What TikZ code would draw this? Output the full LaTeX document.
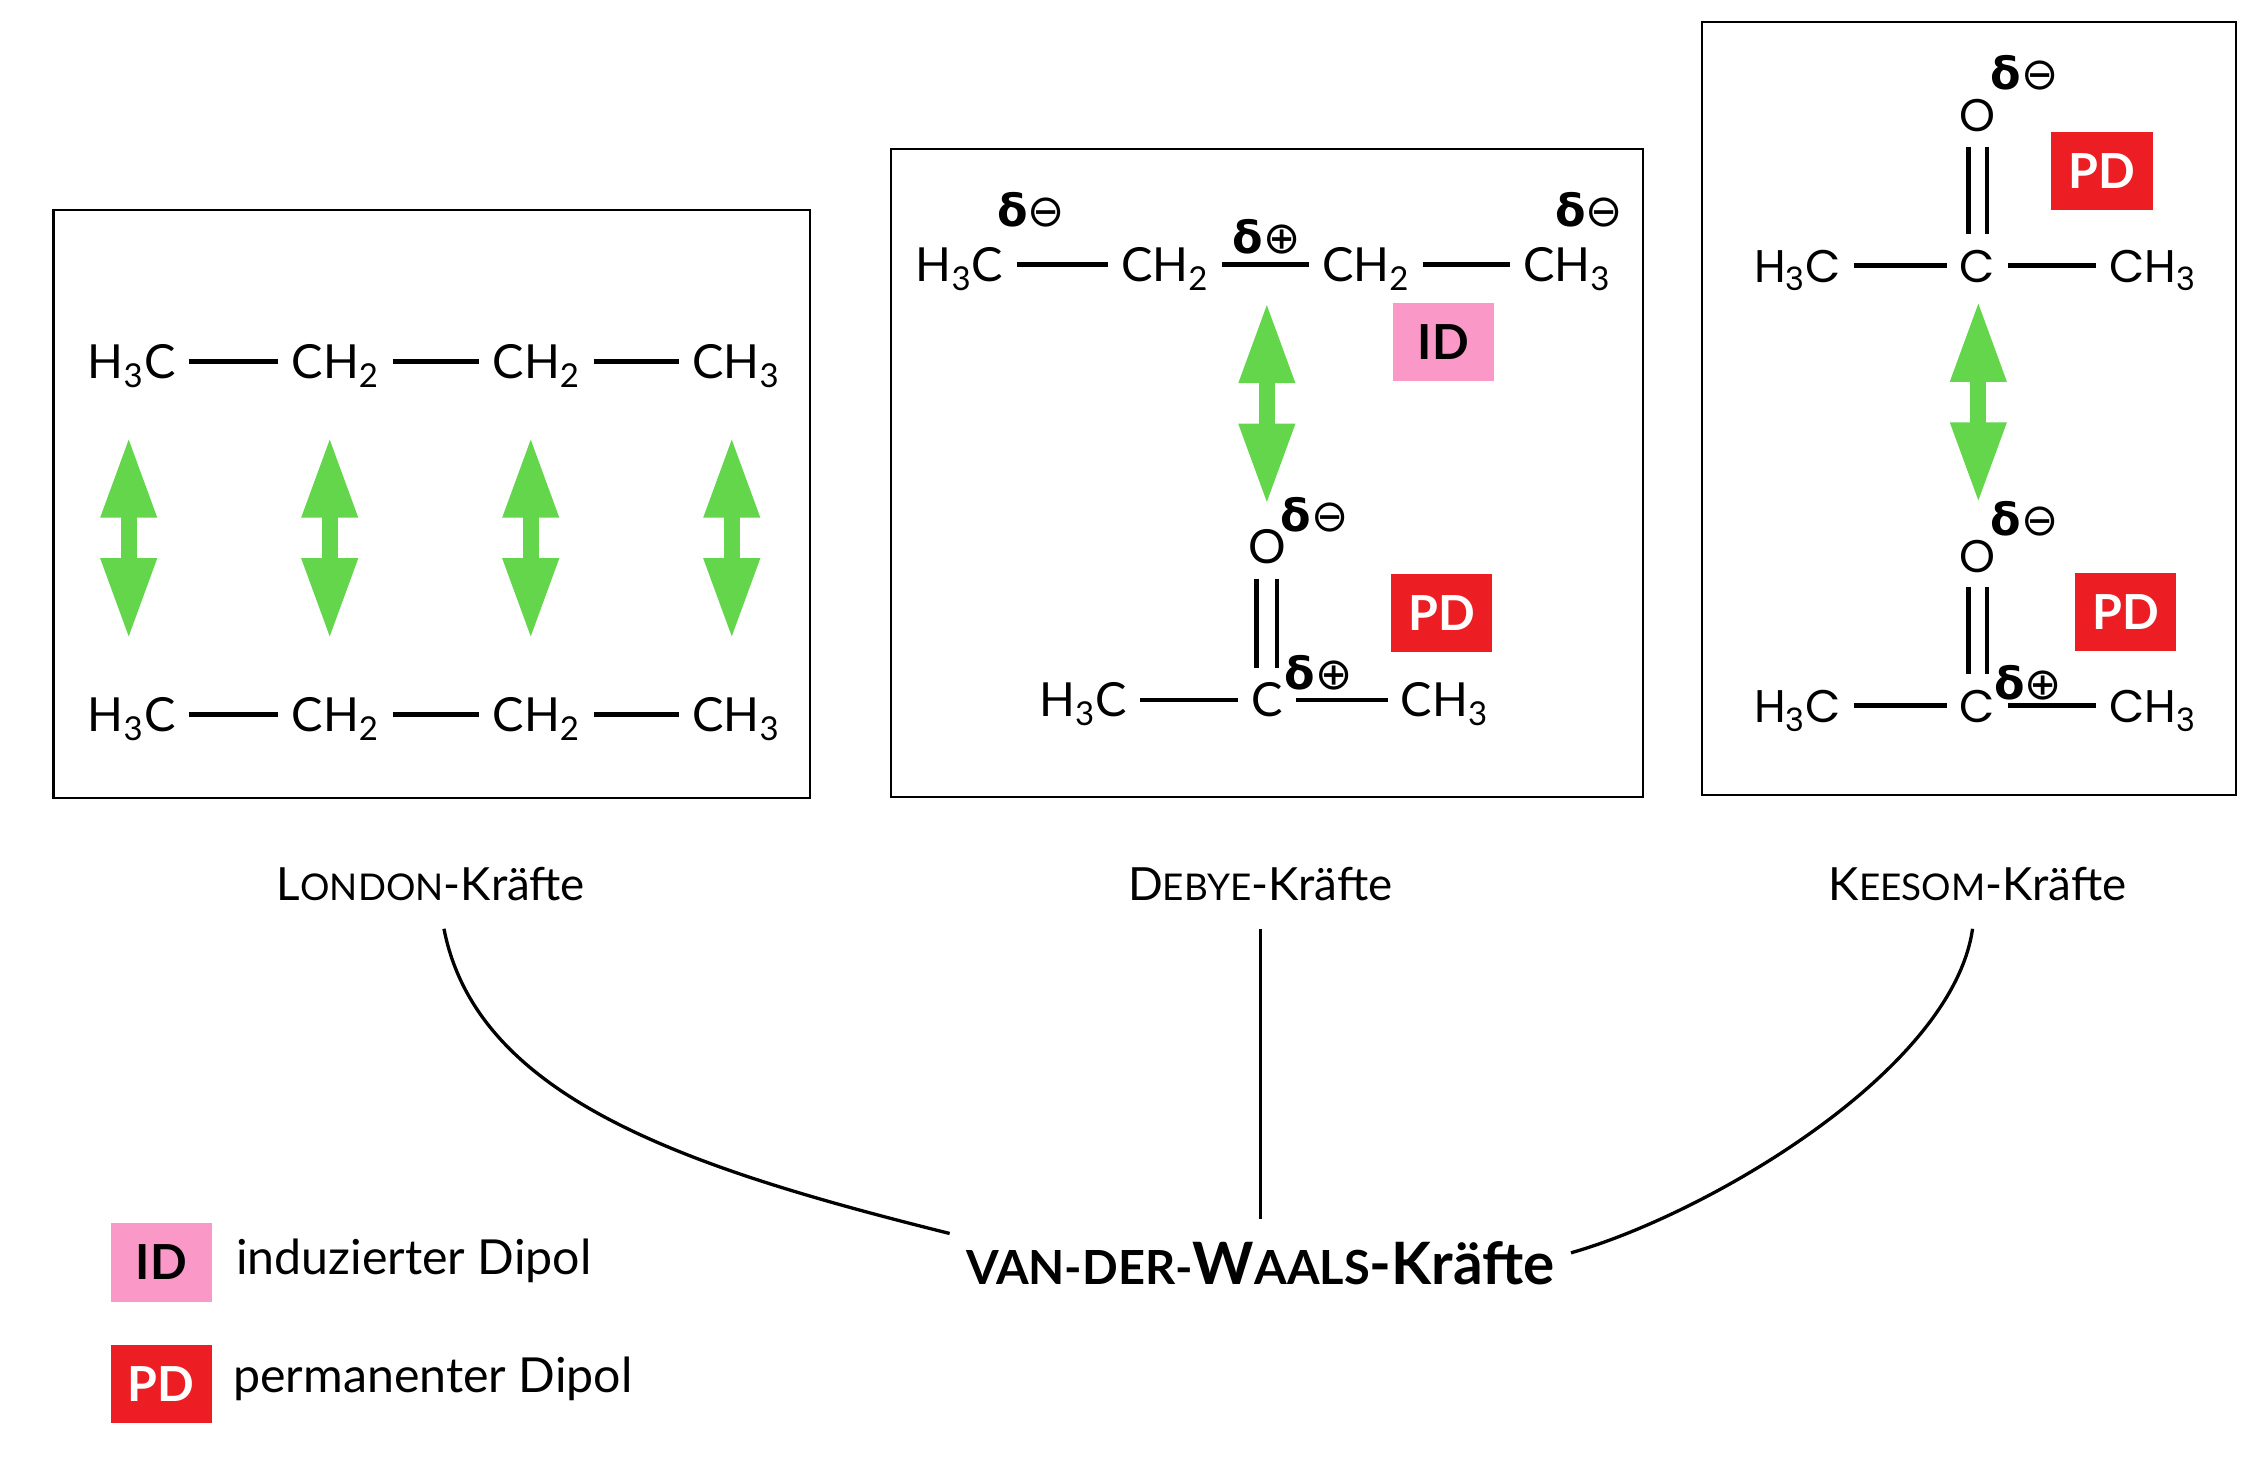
\documentclass[tikz,border=0pt]{standalone}
\usepackage{fontspec}
\setmainfont{Lato}
\newfontfamily\deltafont{DejaVu Sans}
\newfontfamily\roundfont{Poppins}
\usetikzlibrary{arrows.meta}

\definecolor{dipolgreen}{RGB}{99,214,76}
\definecolor{idpink}{RGB}{250,152,200}
\definecolor{pdred}{RGB}{236,30,36}

% fake small caps: size, text
\newcommand\klein[2]{{\fontsize{#1}{#1}\selectfont #2}}
\newcommand\dminus{{\deltafont\textbf{δ}⊖}}
\newcommand\dplus{{\deltafont\textbf{δ}⊕}}

\tikzset{
  frame/.style={draw, line width=0.85pt},
  grp/.style={font=\fontsize{18.5}{20}\selectfont, text height=13.3pt, text depth=0pt, inner xsep=5pt, inner ysep=0pt},
  rgrp/.style={grp, font=\roundfont\fontsize{18}{20}\selectfont},
  charge/.style={font=\deltafont\fontsize{17.5}{18}\selectfont, inner sep=0pt},
  bond/.style={line width=1.8pt},
  dblbond/.style={bond, shorten <=0.2cm, shorten >=0.2cm},
  dipol/.style={draw=dipolgreen, line width=0.22cm, {Triangle[length=1.12cm,width=0.72cm]}-{Triangle[length=1.12cm,width=0.72cm]}},
  idbox/.style={fill=idpink, minimum width=1.4cm, minimum height=1.08cm, inner sep=0pt, font=\bfseries\fontsize{19}{19}\selectfont},
  pdbox/.style={idbox, fill=pdred, text=white},
  kraft/.style={font=\fontsize{18}{20}\selectfont, inner sep=0pt, outer ysep=0.38cm, anchor=base},
  legend/.style={font=\fontsize{19}{20}\selectfont, inner sep=0pt, anchor=base west},
  link/.style={line width=1.3pt},
}

\begin{document}
\begin{tikzpicture}[x=0.02cm, y=-0.02cm]
  \useasboundingbox (0,0) rectangle (1560,1016.5);

  % London: two butane chains
  \draw[frame] (37,145) rectangle (560,552);
  \foreach \r/\y in {1/250,2/494}
  {
    \node[grp] (l\r1) at (91,\y) {H\textsubscript{3}C};
    \node[grp] (l\r2) at (232,\y) {CH\textsubscript{2}};
    \node[grp] (l\r3) at (371,\y) {CH\textsubscript{2}};
    \node[grp] (l\r4) at (509,\y) {CH\textsubscript{3}};
    \foreach \a/\b in {1/2,2/3,3/4}
      \draw[bond] (l\r\a) -- (l\r\b);
  }
  \foreach \i/\x in {1/89,2/228,3/367,4/506}
  {
    \coordinate (lt\i) at (\x,302);
    \coordinate (lb\i) at (\x,442);
    \draw[dipol] (lt\i) -- (lb\i);
  }

  % Debye: butane over acetone
  \draw[frame] (616,103) rectangle (1136,551);
  \node[grp] (dh3c) at (663.5,183) {H\textsubscript{3}C};
  \node[grp] (dch2a) at (805.5,183) {CH\textsubscript{2}};
  \node[grp] (dch2b) at (944.5,183) {CH\textsubscript{2}};
  \node[grp] (dch3) at (1083.5,183) {CH\textsubscript{3}};
  \draw[bond] (dh3c) -- (dch2a);
  \draw[bond] (dch2a) -- (dch2b);
  \draw[bond] (dch2b) -- (dch3);
  \node[charge] (dq1) at (713,145) {\dminus};
  \node[charge] (dq2) at (876,164) {\dplus};
  \node[charge] (dq3) at (1099,145) {\dminus};
  \node[idbox] (did) at (998,236.5) {ID};

  \coordinate (dat) at (876,209);
  \coordinate (dab) at (876,349);
  \draw[dipol] (dat) -- (dab);

  \node[grp] (dO) at (876,378) {O};
  \node[charge] (dq4) at (909,356) {\dminus};
  \node[grp] (dC) at (876,484) {C};
  \node[charge] (dq5) at (912,465) {\dplus};
  \node[grp] (dh3cb) at (749,484) {H\textsubscript{3}C};
  \node[grp] (dch3b) at (999,484) {CH\textsubscript{3}};
  \draw[bond] (dh3cb) -- (dC);
  \draw[bond] (dC) -- (dch3b);
  \draw[dblbond] ([xshift=-0.14cm]dO.south) -- ([xshift=-0.14cm]dC.north);
  \draw[dblbond] ([xshift=0.14cm]dO.south) -- ([xshift=0.14cm]dC.north);
  \node[pdbox] (dpd) at (997,424) {PD};

  % Keesom: acetone over acetone
  \draw[frame] (1177,15) rectangle (1546,550);
  \foreach \m/\y in {a/183.5,b/488}
  {
    \node[rgrp] (kh3c\m) at (1243,\y) {H\textsubscript{3}C};
    \node[rgrp] (kC\m) at (1367.5,\y) {C};
    \node[rgrp] (kch3\m) at (1488.5,\y) {CH\textsubscript{3}};
    \node[rgrp] (kO\m) at (1367.5,\y-104) {O};
    \draw[bond] (kh3c\m) -- (kC\m);
    \draw[bond] (kC\m) -- (kch3\m);
    \draw[dblbond] ([xshift=-0.13cm]kO\m.south) -- ([xshift=-0.13cm]kC\m.north);
    \draw[dblbond] ([xshift=0.13cm]kO\m.south) -- ([xshift=0.13cm]kC\m.north);
  }
  \node[charge] (kq1) at (1400,50) {\dminus};
  \node[charge] (kq2) at (1400,358.5) {\dminus};
  \node[charge] (kq3) at (1402.5,472) {\dplus};
  \node[pdbox] (kpda) at (1453.5,118.3) {PD};
  \node[pdbox] (kpdb) at (1470,423.5) {PD};
  \coordinate (kat) at (1368,208);
  \coordinate (kab) at (1368,348);
  \draw[dipol] (kat) -- (kab);

  % labels and the common root
  \node[kraft] (london) at (298,623) {L\klein{14.5}{ONDON}-Kräfte};
  \node[kraft] (debye) at (871.5,623) {D\klein{14.5}{EBYE}-Kräfte};
  \node[kraft] (keesom) at (1367.5,623) {K\klein{14.5}{EESOM}-Kräfte};

  \node[font=\bfseries\fontsize{23}{24}\selectfont, anchor=base, inner xsep=0.22cm, inner ysep=0.3cm]
    (vdw) at (871.5,888) {\klein{18.5}{VAN-DER-}W\klein{18.5}{AALS}-Kräfte};

  \draw[link] ([xshift=0.18cm]london.south) .. controls +(23,118) and +(-180,-45) .. ([yshift=-0.2cm]vdw.north west);
  \draw[link, line width=1pt] (debye.south) -- (vdw.north);
  \draw[link] ([xshift=-0.07cm]keesom.south) .. controls +(-14,98) and +(95,-27) .. ([yshift=0.14cm]vdw.east);

  % legend
  \node[idbox] (legid) at (111.5,873) {ID};
  \node[legend] (legidtext) at (163,881) {induzierter Dipol};
  \node[pdbox] (legpd) at (111.5,957) {PD};
  \node[legend] (legpdtext) at (161,963) {permanenter Dipol};
\end{tikzpicture}
\end{document}
